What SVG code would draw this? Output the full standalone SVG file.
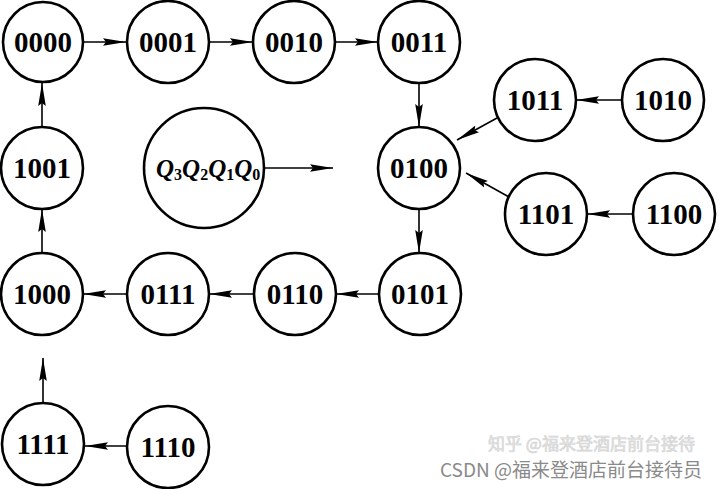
<svg xmlns="http://www.w3.org/2000/svg" width="720" height="489" viewBox="0 0 720 489">
<style>
.n{fill:#fff;stroke:#000;stroke-width:2.6}
.t{font-family:"Liberation Serif","Times New Roman",serif;font-weight:bold;font-size:29px;text-anchor:middle;fill:#000}
.c line{stroke:#000;stroke-width:1.6;marker-end:url(#ah)}
.q{font-family:"Liberation Serif","Times New Roman",serif;font-weight:bold;font-style:italic;font-size:25px;fill:#000}
.s{font-size:16px;font-style:normal}
.wm{font-family:"Noto Sans CJK SC","Noto Sans",sans-serif;font-size:19px;fill:#8a8a8a}
.wz{font-family:"Noto Sans CJK SC","Noto Sans",sans-serif;font-size:17px;fill:#e6e6e6;stroke:#d2d2d2;stroke-width:0.6}
</style>
<defs>
<marker id="ah" markerUnits="userSpaceOnUse" markerWidth="24" markerHeight="10" viewBox="0 -5 24 10" refX="23" refY="0" orient="auto">
<path d="M0,-3.8 L23,0 L0,3.8 L3,0 z" fill="#000"/>
</marker>
</defs>
<rect width="720" height="489" fill="#fff"/>
<g id="connectors" class="c">
<line x1="84" y1="42" x2="126" y2="42"/>
<line x1="209" y1="42" x2="253" y2="42"/>
<line x1="335" y1="42" x2="378" y2="42"/>
<line x1="419" y1="83" x2="419" y2="127"/>
<line x1="419" y1="209" x2="419" y2="253"/>
<line x1="379" y1="294" x2="336" y2="294"/>
<line x1="254" y1="294" x2="209" y2="294"/>
<line x1="127" y1="294" x2="83" y2="294"/>
<line x1="42" y1="253" x2="42" y2="209"/>
<line x1="42" y1="127" x2="42" y2="83"/>
<line x1="622" y1="100" x2="576" y2="100"/>
<line x1="497" y1="118" x2="457" y2="140"/>
<line x1="633" y1="214" x2="587" y2="214"/>
<line x1="509" y1="197" x2="466" y2="173"/>
<line x1="127" y1="446" x2="85" y2="446"/>
<line x1="43" y1="403" x2="43" y2="358"/>
<line x1="265" y1="168" x2="333" y2="168"/>
</g>
<g id="n0000"><circle class="n" cx="43" cy="42" r="40"/><text class="t" x="43" y="52">0000</text></g>
<g id="n0001"><circle class="n" cx="168" cy="42" r="41"/><text class="t" x="168" y="52">0001</text></g>
<g id="n0010"><circle class="n" cx="294" cy="42" r="41"/><text class="t" x="294" y="52">0010</text></g>
<g id="n0011"><circle class="n" cx="419" cy="42" r="41"/><text class="t" x="419" y="52">0011</text></g>
<g id="n1001"><circle class="n" cx="42" cy="168" r="41"/><text class="t" x="42" y="178">1001</text></g>
<g id="n0100"><circle class="n" cx="419" cy="168" r="41"/><text class="t" x="419" y="178">0100</text></g>
<g id="n1000"><circle class="n" cx="42" cy="294" r="41"/><text class="t" x="42" y="304">1000</text></g>
<g id="n0111"><circle class="n" cx="168" cy="294" r="41"/><text class="t" x="168" y="304">0111</text></g>
<g id="n0110"><circle class="n" cx="295" cy="294" r="41"/><text class="t" x="295" y="304">0110</text></g>
<g id="n0101"><circle class="n" cx="420" cy="294" r="41"/><text class="t" x="420" y="304">0101</text></g>
<g id="n1011"><circle class="n" cx="535" cy="100" r="41"/><text class="t" x="535" y="110">1011</text></g>
<g id="n1010"><circle class="n" cx="663" cy="100" r="41"/><text class="t" x="663" y="110">1010</text></g>
<g id="n1101"><circle class="n" cx="546" cy="214" r="41"/><text class="t" x="546" y="224">1101</text></g>
<g id="n1100"><circle class="n" cx="674" cy="214" r="41"/><text class="t" x="674" y="224">1100</text></g>
<g id="n1111"><circle class="n" cx="43" cy="444" r="41"/><text class="t" x="43" y="454">1111</text></g>
<g id="n1110"><circle class="n" cx="168" cy="447" r="41"/><text class="t" x="168" y="457">1110</text></g>
<g id="legend"><circle class="n" cx="204" cy="168" r="60"/><text class="q" x="156" y="177">Q<tspan class="s" dy="3">3</tspan><tspan dy="-3">Q</tspan><tspan class="s" dy="3">2</tspan><tspan dy="-3">Q</tspan><tspan class="s" dy="3">1</tspan><tspan dy="-3">Q</tspan><tspan class="s" dy="3">0</tspan></text></g>
<text class="wz" x="488" y="450">知乎 @福来登酒店前台接待</text>
<text class="wm" x="440" y="477">CSDN @福来登酒店前台接待员</text>
</svg>
